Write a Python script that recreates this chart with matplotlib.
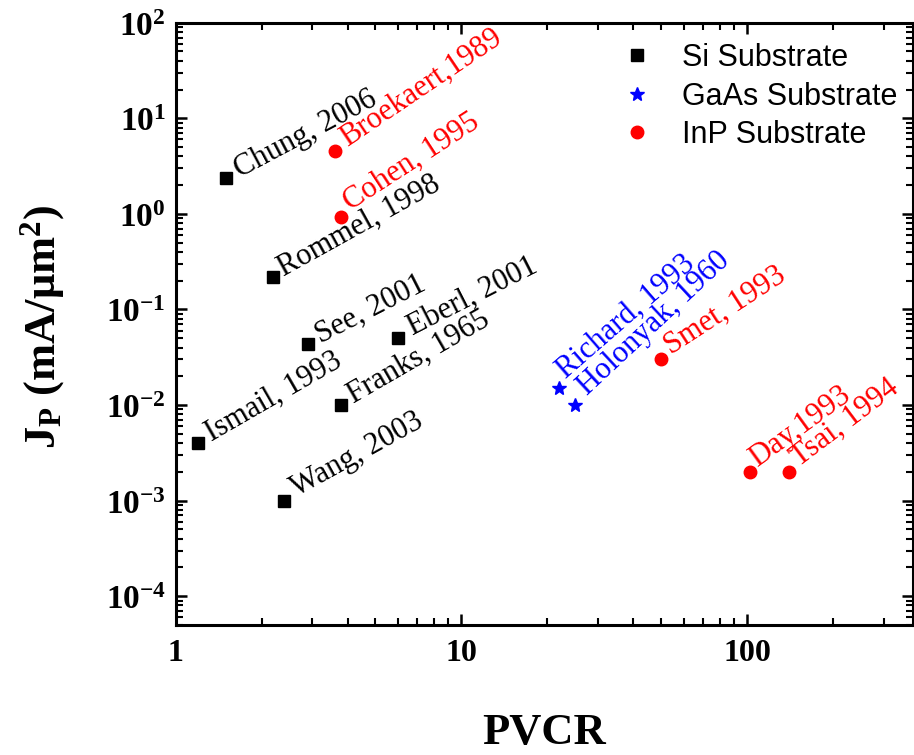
import numpy as np
import matplotlib
matplotlib.use('Agg')
import matplotlib.pyplot as plt
from matplotlib.ticker import LogLocator, FuncFormatter, FixedLocator, FixedFormatter, NullFormatter

plt.rcParams['mathtext.fontset'] = 'custom'
plt.rcParams['mathtext.rm'] = 'Liberation Serif:bold'
plt.rcParams['mathtext.bf'] = 'Liberation Serif:bold'
plt.rcParams['mathtext.it'] = 'Liberation Serif:bold:italic'

# peak current density vs PVCR, grouped by substrate
si_names = ['Chung, 2006', 'Rommel, 1998', 'See, 2001', 'Eberl, 2001',
            'Franks, 1965', 'Ismail, 1993', 'Wang, 2003']
si_pvcr = [1.5, 2.2, 2.9, 6.0, 3.8, 1.2, 2.4]
si_jp = [2.4, 0.22, 0.043, 0.05, 0.01, 0.004, 0.001]

gaas_names = ['Richard, 1993', 'Holonyak, 1960']
gaas_pvcr = [22, 25]
gaas_jp = [0.015, 0.01]

inp_names = ['Broekaert,1989', 'Cohen, 1995', 'Smet, 1993', 'Day,1993', 'Tsai, 1994']
inp_pvcr = [3.6, 3.8, 50, 102, 140]
inp_jp = [4.5, 0.92, 0.03, 0.002, 0.002]

x_ticks = [1, 10, 100]
x_ticklabels = ['1', '10', '100']
y_ticks = [1e-4, 1e-3, 1e-2, 1e-1, 1e0, 1e1, 1e2]

# label placement: (dx, dy) offset in points and rotation in degrees
si_place = [(10, 0, 28), (7, 0, 29), (9, 0.7, 27), (10.5, 2.4, 27),
            (9, 1.2, 30), (9.6, 1, 30), (9, 2.4, 29)]
gaas_place = [(4.8, 6.5, 41), (8.4, 6.5, 43)]
inp_place = [(9, 3.6, 34), (6.7, 4.8, 33), (7.4, 3.1, 33), (5.3, 3.6, 36), (7.2, 3.6, 37)]

W, H = 914, 755
fig = plt.figure(figsize=(W / 100, H / 100), dpi=100)
left, right, top, bottom = 175.5, 913, 22.7, 625
ax = fig.add_axes([left / W, 1 - bottom / H, (right - left) / W, (bottom - top) / H])

ax.plot(si_pvcr, si_jp, 's', color='black', markersize=8, linestyle='none', label='Si Substrate')
ax.plot(gaas_pvcr, gaas_jp, '*', color='#0000ff', markersize=10, linestyle='none', label='GaAs Substrate')
ax.plot(inp_pvcr, inp_jp, 'o', color='#ff0000', markersize=9, linestyle='none', label='InP Substrate')

ax.set_xscale('log')
ax.set_yscale('log')
ax.set_xlim(1, 380)
ax.set_ylim(5e-5, 100)

groups = [(si_names, si_pvcr, si_jp, si_place, 'black'),
          (gaas_names, gaas_pvcr, gaas_jp, gaas_place, '#0000ff'),
          (inp_names, inp_pvcr, inp_jp, inp_place, '#ff0000')]
for names, xs, ys, place, col in groups:
    for name, x, y, (dx, dy, rot) in zip(names, xs, ys, place):
        ax.annotate(name, (x, y), xytext=(dx, dy), textcoords='offset points',
                    ha='left', va='baseline', rotation=rot, rotation_mode='anchor',
                    color=col, fontsize=22, family='Liberation Serif')

# ticks on all four sides, pointing in
ax.xaxis.set_major_locator(FixedLocator(x_ticks))
ax.xaxis.set_major_formatter(FixedFormatter(x_ticklabels))
ax.xaxis.set_minor_locator(LogLocator(base=10, subs=np.arange(2, 10)))
ax.yaxis.set_major_locator(FixedLocator(y_ticks))
ax.yaxis.set_minor_locator(LogLocator(base=10, subs=np.arange(2, 10), numticks=20))
ax.yaxis.set_major_formatter(FuncFormatter(lambda v, p: r'$\mathbf{10^{%d}}$' % round(np.log10(v))))
ax.xaxis.set_minor_formatter(NullFormatter())
ax.yaxis.set_minor_formatter(NullFormatter())
ax.tick_params(which='both', direction='in', top=True, right=True)
ax.tick_params(which='minor', labelleft=False, labelbottom=False)
ax.tick_params(which='major', length=8, width=1.8)
ax.tick_params(which='minor', length=5, width=1.5)
ax.tick_params(axis='x', which='major', pad=10)
ax.tick_params(axis='y', which='major', pad=7)
for lab in ax.get_xticklabels():
    lab.set_fontsize(23)
    lab.set_fontweight('bold')
    lab.set_family('Liberation Serif')
for lab in ax.get_yticklabels():
    lab.set_fontsize(24)
for s in ax.spines.values():
    s.set_linewidth(2.2)

fig.text(43 / W, 1 - 327 / H, r'J$_\mathbf{P}$ (mA/μm$^\mathbf{2}$)', rotation=90,
         ha='center', va='center', fontsize=32, fontweight='bold', family='Liberation Serif')
fig.text((left + right) / 2 / W, 1 - 744 / H, 'PVCR', ha='center', va='baseline',
         fontsize=32, fontweight='bold', family='Liberation Serif')

leg = ax.legend(loc='upper left', bbox_to_anchor=(622 / W, 1 - 43 / H),
                bbox_transform=fig.transFigure, frameon=False, borderpad=0,
                borderaxespad=0, handlelength=1.0, handletextpad=0.97,
                labelspacing=0.28, prop={'family': 'Liberation Sans', 'size': 22})

fig.savefig('out.png', dpi=100)
